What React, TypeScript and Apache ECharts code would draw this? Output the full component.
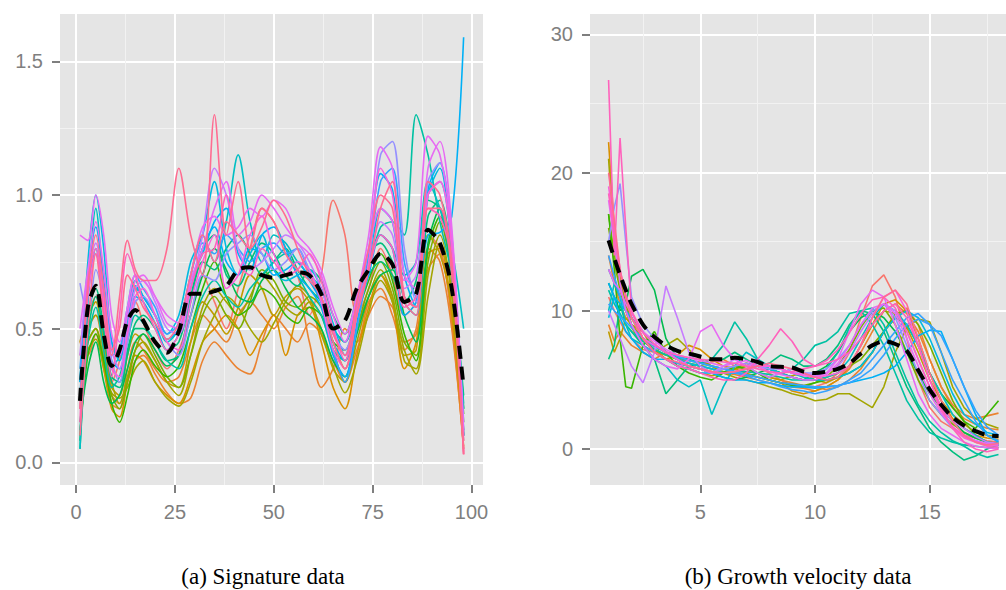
import React, { useEffect, useRef } from 'react';
import * as echarts from 'echarts';

// ---------- Panel (a): Signature data ----------
const sigX = [1, 3, 5, 7, 9, 11, 13, 15, 17, 20, 23, 26, 29, 32, 35, 38, 41, 44, 47, 50, 53, 56, 59, 62, 65, 68, 71, 74, 77, 80, 83, 86, 89, 92, 95, 98];
const sigMean = [0.23, 0.58, 0.66, 0.48, 0.36, 0.42, 0.53, 0.57, 0.53, 0.45, 0.41, 0.49, 0.63, 0.63, 0.64, 0.66, 0.72, 0.73, 0.70, 0.69, 0.70, 0.71, 0.70, 0.63, 0.50, 0.53, 0.65, 0.72, 0.78, 0.74, 0.60, 0.63, 0.87, 0.82, 0.65, 0.28];
const sig0 = [0.30, 0.55, 0.62, 0.45, 0.30, 0.38, 0.55, 0.60, 0.52, 0.42, 0.35, 0.42, 0.55, 0.70, 0.60, 0.50, 0.65, 0.80, 0.95, 0.90, 0.80, 0.70, 0.55, 0.70, 0.98, 0.85, 0.55, 0.65, 0.80, 0.70, 0.55, 0.60, 0.85, 0.80, 0.55, 0.05];
const sig1 = [0.40, 0.50, 0.55, 0.40, 0.22, 0.20, 0.35, 0.45, 0.42, 0.35, 0.30, 0.32, 0.45, 0.55, 0.50, 0.45, 0.55, 0.60, 0.55, 0.50, 0.58, 0.62, 0.45, 0.28, 0.35, 0.50, 0.45, 0.60, 0.65, 0.55, 0.42, 0.50, 0.80, 0.75, 0.50, 0.06];
const sig1b = [0.45, 0.40, 0.48, 0.35, 0.25, 0.22, 0.30, 0.38, 0.40, 0.33, 0.26, 0.22, 0.24, 0.38, 0.45, 0.40, 0.35, 0.33, 0.45, 0.55, 0.50, 0.45, 0.52, 0.48, 0.38, 0.30, 0.42, 0.55, 0.62, 0.58, 0.45, 0.48, 0.72, 0.78, 0.52, 0.05];
const sig2 = [0.35, 0.45, 0.50, 0.35, 0.20, 0.17, 0.30, 0.40, 0.38, 0.30, 0.25, 0.22, 0.32, 0.45, 0.50, 0.55, 0.50, 0.40, 0.48, 0.55, 0.40, 0.55, 0.58, 0.45, 0.28, 0.20, 0.40, 0.58, 0.70, 0.60, 0.35, 0.45, 0.78, 0.80, 0.55, 0.08];
const sig3 = [0.45, 0.55, 0.60, 0.42, 0.28, 0.25, 0.40, 0.48, 0.45, 0.38, 0.30, 0.28, 0.45, 0.60, 0.55, 0.48, 0.58, 0.70, 0.65, 0.55, 0.62, 0.65, 0.60, 0.50, 0.35, 0.30, 0.50, 0.62, 0.70, 0.62, 0.40, 0.42, 0.85, 0.78, 0.58, 0.10];
const sig4 = [0.30, 0.50, 0.55, 0.45, 0.30, 0.22, 0.32, 0.42, 0.45, 0.38, 0.30, 0.25, 0.40, 0.58, 0.65, 0.60, 0.55, 0.62, 0.70, 0.65, 0.58, 0.55, 0.60, 0.55, 0.42, 0.30, 0.45, 0.62, 0.72, 0.62, 0.38, 0.35, 0.70, 0.85, 0.62, 0.12];
const sig4b = [0.25, 0.42, 0.46, 0.36, 0.26, 0.24, 0.28, 0.35, 0.38, 0.30, 0.24, 0.21, 0.30, 0.45, 0.55, 0.62, 0.58, 0.50, 0.45, 0.52, 0.60, 0.66, 0.62, 0.48, 0.36, 0.26, 0.38, 0.56, 0.68, 0.60, 0.42, 0.33, 0.62, 0.82, 0.64, 0.10];
const sig5 = [0.20, 0.45, 0.50, 0.38, 0.25, 0.20, 0.30, 0.42, 0.48, 0.40, 0.32, 0.28, 0.40, 0.55, 0.62, 0.55, 0.50, 0.60, 0.72, 0.68, 0.60, 0.58, 0.62, 0.58, 0.45, 0.35, 0.50, 0.65, 0.75, 0.65, 0.45, 0.40, 0.75, 0.90, 0.68, 0.15];
const sig6 = [0.10, 0.40, 0.48, 0.38, 0.22, 0.15, 0.25, 0.38, 0.42, 0.36, 0.32, 0.36, 0.50, 0.65, 0.75, 0.62, 0.55, 0.58, 0.65, 0.62, 0.55, 0.52, 0.58, 0.55, 0.45, 0.42, 0.55, 0.68, 0.78, 0.68, 0.48, 0.38, 0.80, 0.92, 0.70, 0.18];
const sig7 = [0.15, 0.35, 0.45, 0.30, 0.22, 0.25, 0.35, 0.45, 0.48, 0.42, 0.36, 0.40, 0.55, 0.70, 0.80, 0.72, 0.62, 0.60, 0.68, 0.72, 0.65, 0.58, 0.55, 0.50, 0.38, 0.32, 0.48, 0.62, 0.70, 0.72, 0.55, 0.45, 0.82, 0.95, 0.72, 0.20];
const sig8 = [0.08, 0.55, 0.65, 0.50, 0.30, 0.28, 0.40, 0.50, 0.50, 0.45, 0.38, 0.40, 0.60, 0.75, 0.72, 0.80, 0.85, 0.78, 0.70, 0.75, 0.80, 0.72, 0.65, 0.60, 0.50, 0.45, 0.58, 0.70, 0.75, 0.70, 0.60, 0.68, 0.98, 0.95, 0.70, 0.25];
const sig8b = [0.05, 0.48, 0.62, 0.48, 0.32, 0.30, 0.42, 0.52, 0.55, 0.50, 0.42, 0.45, 0.62, 0.80, 0.85, 0.70, 0.66, 0.75, 0.82, 0.78, 0.70, 0.66, 0.72, 0.68, 0.55, 0.48, 0.62, 0.78, 0.82, 0.75, 0.62, 0.58, 0.92, 0.98, 0.75, 0.20];
const sig9 = [0.12, 0.45, 0.58, 0.42, 0.28, 0.32, 0.45, 0.55, 0.52, 0.45, 0.38, 0.35, 0.50, 0.62, 0.68, 0.62, 0.58, 0.65, 0.70, 0.75, 0.78, 0.70, 0.62, 0.55, 0.42, 0.38, 0.55, 0.72, 0.88, 0.90, 0.85, 1.30, 1.15, 0.90, 0.70, 0.22];
const sig10 = [0.05, 0.60, 0.95, 0.65, 0.35, 0.40, 0.55, 0.68, 0.62, 0.55, 0.45, 0.50, 0.70, 0.85, 0.75, 0.90, 1.15, 0.90, 0.75, 0.85, 0.82, 0.75, 0.70, 0.65, 0.50, 0.45, 0.60, 0.75, 0.85, 0.80, 0.70, 0.75, 1.05, 0.95, 0.80, 0.50];
const sig11 = [0.30, 0.75, 1.00, 0.80, 0.45, 0.38, 0.52, 0.65, 0.62, 0.55, 0.48, 0.55, 0.75, 0.85, 1.05, 0.80, 0.70, 0.78, 0.85, 0.72, 0.68, 0.70, 0.72, 0.65, 0.52, 0.40, 0.58, 0.72, 0.95, 0.90, 0.60, 0.55, 1.00, 1.10, 0.78, 0.10];
const sig12 = [0.25, 0.62, 0.80, 0.60, 0.38, 0.35, 0.48, 0.62, 0.60, 0.52, 0.42, 0.48, 0.65, 0.80, 0.88, 0.75, 0.70, 0.80, 0.78, 0.70, 0.72, 0.75, 0.68, 0.60, 0.45, 0.38, 0.55, 0.70, 0.85, 0.80, 0.55, 0.60, 0.85, 0.86, 0.92, 1.59];
const sig12b = [0.30, 0.70, 0.88, 0.68, 0.45, 0.40, 0.55, 0.66, 0.62, 0.55, 0.46, 0.50, 0.68, 0.78, 0.90, 0.95, 0.78, 0.72, 0.85, 0.88, 0.80, 0.70, 0.65, 0.58, 0.40, 0.32, 0.52, 0.78, 1.08, 1.02, 0.70, 0.58, 1.02, 1.12, 0.82, 0.10];
const sig13 = [0.35, 0.65, 0.78, 0.62, 0.40, 0.42, 0.58, 0.70, 0.65, 0.58, 0.48, 0.52, 0.70, 0.82, 0.78, 0.85, 0.80, 0.75, 0.80, 0.82, 0.78, 0.80, 0.70, 0.60, 0.42, 0.30, 0.50, 0.75, 1.05, 1.10, 0.75, 0.62, 1.00, 1.05, 0.80, 0.12];
const sig14 = [0.67, 0.55, 0.72, 0.60, 0.38, 0.30, 0.45, 0.60, 0.62, 0.55, 0.45, 0.40, 0.55, 0.70, 0.68, 0.78, 0.82, 0.85, 0.78, 0.72, 0.75, 0.80, 0.72, 0.62, 0.48, 0.42, 0.58, 0.80, 1.15, 1.20, 0.80, 0.60, 1.05, 1.12, 0.85, 0.15];
const sig15 = [0.40, 0.70, 0.82, 0.65, 0.42, 0.35, 0.50, 0.65, 0.68, 0.60, 0.50, 0.48, 0.65, 0.85, 1.10, 1.00, 0.80, 0.72, 0.75, 0.80, 0.85, 0.82, 0.75, 0.65, 0.50, 0.40, 0.55, 0.72, 0.90, 0.85, 0.65, 0.70, 1.00, 1.05, 0.82, 0.12];
const sig16 = [0.85, 0.83, 1.00, 0.85, 0.55, 0.45, 0.58, 0.70, 0.68, 0.62, 0.52, 0.50, 0.68, 0.80, 0.95, 1.05, 0.85, 0.90, 1.00, 0.95, 0.88, 0.82, 0.78, 0.70, 0.55, 0.45, 0.62, 0.80, 0.95, 0.90, 0.68, 0.75, 1.22, 1.15, 0.85, 0.08];
const sig16b = [0.50, 0.72, 0.90, 0.72, 0.48, 0.40, 0.55, 0.68, 0.70, 0.62, 0.55, 0.52, 0.70, 0.88, 0.92, 0.85, 0.88, 0.95, 0.92, 0.98, 0.95, 0.85, 0.80, 0.72, 0.58, 0.48, 0.62, 0.85, 1.18, 1.10, 0.70, 0.65, 1.10, 1.20, 0.88, 0.10];
const sig17 = [0.20, 0.62, 0.78, 0.60, 0.35, 0.32, 0.48, 0.62, 0.65, 0.55, 0.45, 0.42, 0.60, 0.75, 0.85, 0.65, 0.70, 0.85, 0.92, 0.78, 0.70, 0.75, 0.72, 0.60, 0.42, 0.35, 0.55, 0.75, 1.10, 1.00, 0.62, 0.58, 1.00, 1.05, 0.80, 0.04];
const sig18 = [0.15, 0.68, 0.80, 0.55, 0.32, 0.55, 0.78, 0.70, 0.60, 0.50, 0.42, 0.48, 0.65, 0.78, 0.80, 1.00, 0.75, 0.70, 0.80, 0.75, 0.70, 0.72, 0.78, 0.68, 0.50, 0.38, 0.58, 0.72, 0.85, 0.80, 0.58, 0.62, 0.95, 0.92, 0.75, 0.03];
const sig19 = [0.10, 0.50, 0.78, 0.55, 0.40, 0.62, 0.83, 0.72, 0.68, 0.68, 0.80, 1.10, 0.85, 0.70, 1.30, 0.85, 1.05, 0.80, 0.95, 0.90, 0.78, 0.72, 0.68, 0.62, 0.45, 0.35, 0.55, 0.72, 0.95, 1.05, 0.62, 0.58, 0.95, 0.95, 0.70, 0.03];
const sig19b = [0.20, 0.65, 0.85, 0.65, 0.42, 0.50, 0.70, 0.65, 0.58, 0.52, 0.46, 0.52, 0.70, 0.85, 0.75, 0.90, 0.85, 0.80, 0.88, 0.98, 0.92, 0.80, 0.70, 0.62, 0.48, 0.40, 0.60, 0.80, 1.00, 0.95, 0.60, 0.55, 1.05, 1.00, 0.75, 0.03];
const sigCurves = [sig0, sig1, sig1b, sig2, sig3, sig4, sig4b, sig5, sig6, sig7, sig8, sig8b, sig9, sig10, sig11, sig12, sig12b, sig13, sig14, sig15, sig16, sig16b, sig17, sig18, sig19, sig19b];
const sigColorIdx = [0, 1, 1, 2, 3, 4, 4, 5, 6, 7, 8, 8, 9, 10, 11, 12, 12, 13, 14, 15, 16, 16, 17, 18, 19, 19];

// ---------- Panel (b): Growth velocity data ----------
const velX = [1, 1.25, 1.5, 1.75, 2, 2.5, 3, 3.5, 4, 4.5, 5, 5.5, 6, 6.5, 7, 7.5, 8, 8.5, 9, 9.5, 10, 10.5, 11, 11.5, 12, 12.5, 13, 13.5, 14, 14.5, 15, 15.5, 16, 16.5, 17, 17.5, 18];
const velMean = [15.1, 13.8, 12.6, 11.5, 10.5, 9.0, 8.1, 7.5, 7.1, 6.9, 6.7, 6.5, 6.5, 6.6, 6.5, 6.3, 6.0, 5.95, 5.9, 5.6, 5.5, 5.6, 5.8, 6.2, 6.9, 7.5, 7.8, 7.6, 7.1, 5.7, 4.3, 3.2, 2.3, 1.7, 1.3, 1.0, 0.95];
const vel0 = [11.0, 10.0, 9.2, 8.5, 8.0, 7.2, 7.0, 6.8, 6.5, 6.4, 6.3, 6.0, 5.8, 6.0, 6.2, 6.0, 5.5, 5.0, 4.6, 4.4, 4.5, 4.8, 5.5, 7.0, 9.5, 11.8, 12.6, 11.0, 8.0, 5.0, 3.0, 2.0, 1.5, 1.0, 0.8, 0.6, 0.5];
const vel1 = [9.0, 7.8, 8.5, 8.0, 7.5, 7.0, 6.5, 7.0, 6.8, 6.2, 6.0, 6.3, 6.5, 6.0, 5.8, 5.5, 5.2, 5.0, 4.8, 4.6, 4.5, 4.3, 4.5, 5.0, 5.8, 7.0, 8.5, 9.5, 10.2, 9.0, 6.5, 4.5, 3.2, 2.5, 2.2, 2.4, 2.6];
const vel1b = [14.0, 12.0, 10.5, 9.5, 9.0, 8.0, 7.5, 7.0, 6.5, 6.0, 5.8, 5.6, 5.5, 5.4, 5.2, 5.0, 4.8, 4.6, 4.5, 4.4, 4.2, 4.5, 5.0, 5.8, 7.0, 8.5, 10.0, 10.5, 9.8, 8.5, 6.5, 4.5, 3.0, 2.2, 1.8, 1.5, 1.4];
const vel2 = [22.2, 16.0, 12.5, 10.5, 9.0, 8.0, 7.2, 6.5, 6.8, 7.5, 7.2, 6.5, 6.0, 5.8, 5.5, 5.2, 5.0, 4.8, 4.2, 4.0, 4.2, 4.5, 5.0, 6.0, 7.5, 9.0, 10.5, 10.8, 10.0, 8.0, 5.5, 3.5, 2.2, 1.5, 1.0, 0.8, 0.7];
const vel3 = [8.5, 7.0, 8.0, 9.5, 9.0, 8.5, 7.0, 6.5, 6.0, 5.8, 5.5, 5.3, 5.5, 5.8, 6.0, 5.5, 5.2, 5.0, 5.3, 5.5, 5.0, 4.8, 5.2, 6.0, 7.5, 9.0, 10.0, 9.8, 8.8, 7.0, 5.0, 3.5, 2.5, 1.8, 1.2, 1.0, 0.9];
const vel4 = [21.0, 15.0, 12.0, 10.0, 8.8, 7.5, 7.0, 7.5, 8.0, 7.2, 6.5, 6.0, 5.5, 5.2, 5.0, 4.8, 4.5, 4.3, 4.0, 3.8, 3.5, 3.6, 4.0, 4.0, 3.5, 3.0, 4.5, 7.0, 8.8, 9.4, 9.2, 7.0, 4.5, 3.0, 2.2, 1.8, 1.5];
const vel5 = [17.0, 14.0, 12.0, 10.5, 9.5, 8.0, 7.0, 6.5, 6.2, 6.0, 5.8, 5.5, 5.5, 5.8, 6.2, 6.0, 5.8, 5.5, 5.2, 5.0, 5.0, 5.2, 5.5, 6.0, 6.5, 7.5, 8.5, 9.8, 10.0, 9.0, 7.5, 5.5, 3.5, 2.0, 1.0, 0.5, 0.3];
const vel5b = [16.0, 13.5, 11.5, 10.0, 9.0, 7.8, 7.2, 6.8, 6.5, 6.2, 6.0, 5.8, 5.6, 5.5, 5.4, 5.2, 5.0, 4.8, 4.7, 4.6, 4.8, 5.2, 6.0, 7.2, 8.8, 10.0, 10.2, 9.0, 7.0, 5.0, 3.5, 2.5, 1.8, 1.2, 0.8, 0.5, 0.4];
const vel6 = [17.0, 13.0, 8.0, 4.5, 4.4, 7.5, 8.5, 7.0, 6.0, 5.5, 5.2, 5.0, 5.5, 6.0, 5.8, 5.5, 5.0, 4.8, 4.6, 4.5, 4.8, 5.0, 5.2, 5.5, 6.0, 7.0, 8.5, 9.5, 9.0, 7.5, 5.5, 4.0, 3.0, 2.0, 1.5, 2.5, 3.5];
const vel7 = [12.0, 11.0, 10.0, 10.5, 12.5, 13.0, 11.5, 8.0, 6.5, 6.0, 5.8, 5.5, 5.2, 5.0, 5.2, 5.5, 5.8, 5.5, 5.2, 5.0, 5.5, 6.0, 7.0, 8.5, 9.5, 10.0, 9.5, 8.5, 7.0, 5.5, 4.0, 3.0, 2.0, 1.2, 0.8, 0.5, 0.4];
const vel8 = [6.5, 7.5, 10.5, 9.0, 8.5, 7.5, 6.5, 4.0, 5.0, 6.0, 6.2, 6.5, 6.5, 7.0, 6.5, 6.0, 6.2, 6.8, 6.5, 6.0, 6.0, 6.5, 7.5, 9.0, 10.0, 9.8, 8.5, 6.5, 4.5, 3.0, 1.5, 0.5, -0.2, -0.8, -0.5, 0.0, 0.3];
const vel9 = [13.0, 12.0, 11.0, 10.0, 9.5, 8.5, 7.5, 7.0, 6.8, 6.5, 6.2, 6.5, 7.5, 9.2, 8.0, 6.5, 5.8, 5.5, 5.8, 6.5, 7.5, 7.8, 8.5, 9.8, 10.0, 9.0, 7.5, 5.5, 3.5, 2.2, 1.2, 0.8, 0.5, 0.3, 0.2, 0.1, 0.1];
const vel9b = [11.5, 10.5, 9.8, 9.0, 8.5, 7.8, 7.2, 6.8, 6.6, 6.4, 6.2, 6.0, 5.8, 5.6, 5.6, 5.5, 5.4, 5.2, 5.0, 5.0, 5.2, 5.8, 7.0, 8.8, 10.0, 10.2, 9.0, 7.0, 5.0, 3.2, 2.0, 1.2, 0.6, 0.2, -0.3, -0.6, -0.4];
const vel10 = [10.0, 12.0, 11.0, 9.0, 8.0, 7.5, 6.5, 6.0, 5.0, 4.5, 5.0, 2.5, 4.5, 6.0, 7.0, 6.5, 6.0, 5.8, 5.5, 5.2, 5.0, 5.2, 5.5, 6.5, 8.0, 9.5, 10.5, 10.0, 9.0, 7.5, 5.5, 4.0, 2.5, 1.5, 1.0, 0.5, 0.3];
const vel11 = [9.5, 11.0, 10.5, 10.0, 9.5, 8.0, 7.5, 7.0, 6.5, 6.2, 6.0, 5.8, 5.5, 5.5, 5.8, 6.0, 5.8, 5.5, 5.2, 5.0, 5.0, 5.0, 5.2, 5.5, 6.0, 7.0, 8.5, 9.5, 10.0, 9.5, 8.0, 6.0, 4.0, 2.5, 1.8, 1.2, 1.0];
const vel12 = [12.0, 11.0, 9.5, 8.5, 8.0, 7.0, 6.5, 6.5, 6.0, 5.8, 5.5, 5.5, 5.2, 5.0, 5.0, 4.8, 4.8, 4.6, 4.5, 4.5, 4.4, 4.5, 4.6, 4.8, 5.0, 5.2, 5.5, 6.0, 7.0, 8.2, 8.6, 8.5, 6.5, 4.5, 2.5, 1.0, 0.5];
const vel13 = [14.0, 12.5, 11.0, 10.0, 9.0, 7.5, 7.0, 6.5, 6.2, 6.0, 5.8, 5.5, 5.5, 5.5, 5.3, 5.0, 4.8, 4.5, 4.3, 4.2, 4.0, 4.2, 4.5, 5.0, 5.5, 6.5, 7.5, 8.5, 9.5, 9.8, 9.0, 7.0, 5.0, 3.5, 2.0, 1.0, 0.6];
const vel13b = [10.5, 10.0, 9.6, 9.2, 8.8, 8.0, 7.4, 7.0, 6.7, 6.4, 6.2, 6.0, 5.8, 5.6, 5.4, 5.2, 5.0, 4.8, 4.7, 4.6, 4.5, 4.5, 4.6, 4.8, 5.2, 5.8, 6.8, 8.0, 9.0, 9.4, 9.0, 8.2, 6.5, 4.5, 2.8, 1.6, 1.0];
const vel14 = [15.0, 17.5, 19.2, 15.0, 11.0, 9.0, 8.0, 7.0, 6.5, 6.0, 5.8, 5.5, 5.8, 6.0, 6.2, 6.0, 5.8, 5.8, 5.5, 5.5, 5.5, 5.8, 6.5, 7.5, 9.0, 10.0, 10.5, 9.5, 7.5, 5.5, 3.5, 2.5, 1.5, 1.0, 0.6, 0.4, 0.3];
const vel15 = [10.0, 9.0, 8.0, 7.0, 6.0, 4.8, 7.0, 11.8, 9.5, 7.0, 6.0, 5.5, 6.0, 6.5, 6.0, 5.5, 5.2, 5.5, 5.8, 5.5, 5.3, 5.5, 6.0, 7.0, 8.5, 9.8, 10.5, 10.0, 8.5, 6.5, 4.5, 3.0, 2.0, 1.5, 0.9, 0.5, 0.4];
const vel16 = [18.0, 15.0, 12.0, 10.0, 9.0, 7.5, 6.5, 6.0, 5.8, 6.5, 8.5, 9.0, 7.5, 6.5, 6.0, 6.2, 6.0, 5.8, 5.5, 5.4, 5.2, 5.5, 6.5, 8.5, 10.5, 11.5, 11.0, 9.0, 6.5, 4.0, 2.5, 1.5, 1.0, 0.5, 0.2, 0.1, 0.0];
const vel16b = [13.0, 12.0, 11.5, 10.5, 9.8, 8.5, 7.8, 7.2, 6.8, 6.6, 6.4, 6.2, 6.0, 6.2, 6.4, 6.0, 5.6, 5.4, 5.2, 5.0, 5.0, 5.4, 6.2, 7.5, 9.0, 10.2, 10.5, 9.8, 8.0, 6.0, 4.0, 2.6, 1.6, 1.0, 0.6, 0.4, 0.3];
const vel17 = [19.0, 16.0, 13.0, 11.0, 9.5, 8.0, 7.5, 7.0, 6.5, 6.0, 5.8, 5.5, 5.5, 5.6, 5.8, 6.0, 6.0, 5.8, 5.5, 5.3, 5.2, 5.3, 5.5, 6.0, 7.5, 9.5, 11.0, 11.5, 10.0, 7.5, 5.0, 3.0, 1.5, 0.8, 0.5, 0.3, 0.2];
const vel18 = [26.7, 14.0, 22.5, 16.0, 10.0, 8.0, 7.0, 6.5, 6.0, 5.8, 5.5, 5.2, 5.0, 5.0, 5.5, 6.5, 7.5, 8.7, 7.8, 6.5, 6.0, 6.2, 6.5, 7.0, 8.0, 9.0, 10.0, 10.5, 9.5, 7.5, 5.0, 3.0, 1.5, 0.5, 0.0, -0.2, 0.0];
const vel18b = [18.5, 15.5, 12.8, 11.2, 10.0, 8.4, 7.6, 7.0, 6.8, 6.6, 6.5, 6.4, 6.3, 6.2, 6.0, 5.8, 5.6, 5.5, 5.6, 5.8, 6.0, 6.4, 7.2, 8.4, 9.8, 10.8, 11.0, 10.2, 8.5, 6.5, 4.5, 2.8, 1.6, 0.9, 0.5, 0.2, 0.1];
const vel19 = [20.0, 16.5, 13.0, 11.0, 9.5, 8.0, 7.0, 6.5, 6.3, 6.0, 5.8, 5.6, 5.5, 5.6, 5.8, 6.0, 6.2, 6.0, 5.8, 5.5, 5.2, 5.0, 5.2, 6.0, 7.5, 9.5, 11.0, 11.5, 10.5, 8.0, 5.5, 3.5, 2.0, 1.0, 0.5, 0.3, 0.4];
const velCurves = [vel0, vel1, vel1b, vel2, vel3, vel4, vel5, vel5b, vel6, vel7, vel8, vel9, vel9b, vel10, vel11, vel12, vel13, vel13b, vel14, vel15, vel16, vel16b, vel17, vel18, vel18b, vel19];
const velColorIdx = [0, 1, 1, 2, 3, 4, 5, 5, 6, 7, 8, 9, 9, 10, 11, 12, 13, 13, 14, 15, 16, 16, 17, 18, 18, 19];

// ---------- Tick labels ----------
const sigXTicks = [0, 25, 50, 75, 100];
const sigXMinor = [12.5, 37.5, 62.5, 87.5];
const sigYTicks = [0, 0.5, 1, 1.5];
const sigYMinor = [0.25, 0.75, 1.25];
const velXTicks = [5, 10, 15];
const velXMinor = [2.5, 7.5, 12.5, 17.5];
const velYTicks = [0, 10, 20, 30];
const velYMinor = [5, 15, 25];

const captionA = '(a) Signature data';
const captionB = '(b) Growth velocity data';

const palette = ['#F8766D', '#EA8331', '#D89000', '#C09B00', '#A3A500', '#7CAE00', '#39B600', '#00BB4E', '#00BF7D', '#00C1A3', '#00BFC4', '#00BAE0', '#00B0F6', '#35A2FF', '#9590FF', '#C77CFF', '#E76BF3', '#FA62DB', '#FF62BC', '#FF6C91'];

const TXT = '#7F7F7F';
const FONT = 'Liberation Sans, Arial, sans-serif';

function minorAxis(gridIndex: number, min: number, max: number, vals: number[], position: string) {
  return {
    type: 'value', gridIndex, min, max, position,
    axisLine: { show: false, onZero: false },
    axisTick: { show: false, customValues: vals },
    axisLabel: { show: false, customValues: vals },
    splitLine: { show: true, lineStyle: { color: '#F2F2F2', width: 1 } },
  };
}
function majorAxis(gridIndex: number, min: number, max: number, vals: number[], position: string, fmt?: (v: number) => string) {
  return {
    type: 'value', gridIndex, min, max, position,
    axisLine: { show: false, onZero: false },
    axisTick: { show: true, length: 8, customValues: vals, lineStyle: { color: TXT, width: 2 } },
    axisLabel: {
      show: true, customValues: vals, margin: 17, color: TXT, fontSize: 20, fontFamily: FONT,
      formatter: fmt ? (v: number) => fmt(v) : (v: number) => String(v),
    },
    splitLine: { show: true, lineStyle: { color: '#FFFFFF', width: 2 } },
  };
}

export default function App() {
  const ref = useRef<HTMLDivElement>(null);
  useEffect(() => {
    if (!ref.current) return;
    const chart = echarts.init(ref.current, undefined, { renderer: 'svg' });
    const series: any[] = [];
    sigCurves.forEach((c, i) => {
      series.push({
        type: 'line', xAxisIndex: 1, yAxisIndex: 1, data: sigX.map((x, j) => [x, c[j]]),
        showSymbol: false, symbol: 'none', smooth: 0.3, silent: true,
        lineStyle: { color: palette[sigColorIdx[i]], width: 1.6 },
      });
    });
    series.push({
      type: 'line', xAxisIndex: 1, yAxisIndex: 1, data: sigX.map((x, j) => [x, sigMean[j]]),
      showSymbol: false, symbol: 'none', smooth: 0.3, silent: true, z: 5,
      lineStyle: { color: '#000000', width: 4, type: [13, 8] },
    });
    velCurves.forEach((c, i) => {
      series.push({
        type: 'line', xAxisIndex: 3, yAxisIndex: 3, data: velX.map((x, j) => [x, c[j]]),
        showSymbol: false, symbol: 'none', smooth: false, silent: true,
        lineStyle: { color: palette[velColorIdx[i]], width: 1.6 },
      });
    });
    series.push({
      type: 'line', xAxisIndex: 3, yAxisIndex: 3, data: velX.map((x, j) => [x, velMean[j]]),
      showSymbol: false, symbol: 'none', smooth: 0.3, silent: true, z: 5,
      lineStyle: { color: '#000000', width: 4, type: [13, 8] },
    });

    chart.setOption({
      animation: false,
      backgroundColor: '#FFFFFF',
      grid: [
        { left: 60, top: 14, width: 423, height: 471, show: true, backgroundColor: '#E5E5E5', borderWidth: 0, containLabel: false, outerBoundsMode: 'none' },
        { left: 590, top: 14, width: 428, height: 471, show: true, backgroundColor: '#E5E5E5', borderWidth: 0, containLabel: false, outerBoundsMode: 'none' },
      ],
      xAxis: [
        minorAxis(0, -4.05, 102.9, sigXMinor, 'bottom'),
        majorAxis(0, -4.05, 102.9, sigXTicks, 'bottom'),
        minorAxis(1, 0.19, 18.85, velXMinor, 'bottom'),
        majorAxis(1, 0.19, 18.85, velXTicks, 'bottom'),
      ],
      yAxis: [
        minorAxis(0, -0.085, 1.677, sigYMinor, 'left'),
        majorAxis(0, -0.085, 1.677, sigYTicks, 'left', (v) => v.toFixed(1)),
        minorAxis(1, -2.6, 31.47, velYMinor, 'left'),
        majorAxis(1, -2.6, 31.47, velYTicks, 'left'),
      ],
      series,
      graphic: [
        { type: 'text', x: 263, y: 576, silent: true, style: { text: captionA, fill: '#000000', fontSize: 23, fontFamily: 'Liberation Serif, serif', align: 'center', verticalAlign: 'middle' } },
        { type: 'text', x: 798, y: 576, silent: true, style: { text: captionB, fill: '#000000', fontSize: 23, fontFamily: 'Liberation Serif, serif', align: 'center', verticalAlign: 'middle' } },
      ],
    });
    return () => chart.dispose();
  }, []);
  return <div ref={ref} style={{ position: 'fixed', left: 0, top: 0, width: 1006, height: 590, overflow: 'hidden' }} />;
}
